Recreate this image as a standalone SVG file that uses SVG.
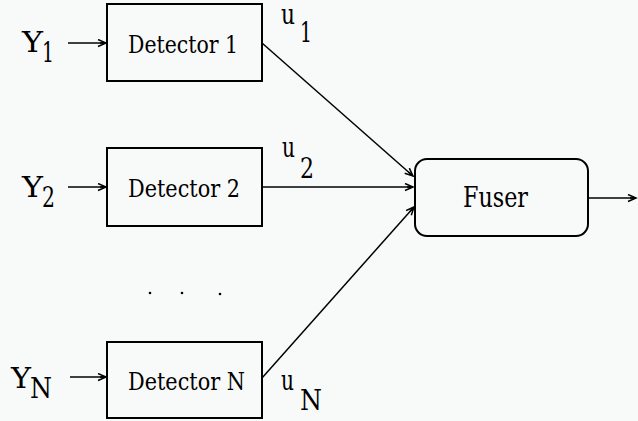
<svg xmlns="http://www.w3.org/2000/svg" width="638" height="421" viewBox="0 0 638 421">
<style>
.box{fill:none;stroke:#000;stroke-width:2}
.ln{fill:none;stroke:#000;stroke-width:1.5}
text{font-family:"DejaVu Serif","Liberation Serif",serif;fill:#000}
.lbl{font-size:25px}
.v{font-size:27px}
</style>
<defs>
<marker id="ah" markerUnits="userSpaceOnUse" markerWidth="12" markerHeight="10" refX="9" refY="4" orient="auto">
<path d="M1,0.5 L9,4 L1,7.5 M3,4 L9,4" fill="none" stroke="#000" stroke-width="1.5"/>
</marker>
</defs>
<rect width="638" height="421" fill="#f8f9f9"/>
<g id="det1">
<rect class="box" x="107" y="4" width="155" height="77"/>
<text class="lbl" x="128" y="53" textLength="110" lengthAdjust="spacingAndGlyphs">Detector 1</text>
</g>
<g id="det2">
<rect class="box" x="107" y="148" width="155" height="78"/>
<text class="lbl" x="128" y="197" textLength="112" lengthAdjust="spacingAndGlyphs">Detector 2</text>
</g>
<g id="detN">
<rect class="box" x="107" y="342" width="155" height="76"/>
<text class="lbl" x="128" y="390" textLength="117" lengthAdjust="spacingAndGlyphs">Detector N</text>
</g>
<g id="fuser">
<rect class="box" x="415" y="159" width="173" height="77" rx="12" ry="12"/>
<text x="463" y="207" font-size="28" textLength="65" lengthAdjust="spacingAndGlyphs">Fuser</text>
</g>
<g id="inputs">
<text class="v" x="22" y="52" textLength="21" lengthAdjust="spacingAndGlyphs">Y</text><text class="v" x="42" y="62" textLength="12" lengthAdjust="spacingAndGlyphs">1</text>
<text class="v" x="22" y="197" textLength="21" lengthAdjust="spacingAndGlyphs">Y</text><text class="v" x="42" y="207" textLength="13" lengthAdjust="spacingAndGlyphs">2</text>
<text class="v" x="11" y="388" textLength="20" lengthAdjust="spacingAndGlyphs">Y</text><text class="v" x="30" y="398" textLength="22" lengthAdjust="spacingAndGlyphs">N</text>
</g>
<g id="outputs">
<text class="v" x="281" y="24" textLength="14" lengthAdjust="spacingAndGlyphs">u</text><text class="v" x="300" y="42" textLength="12" lengthAdjust="spacingAndGlyphs">1</text>
<text class="v" x="282" y="157" textLength="13" lengthAdjust="spacingAndGlyphs">u</text><text class="v" x="300" y="178" textLength="14" lengthAdjust="spacingAndGlyphs">2</text>
<text class="v" x="281" y="390" textLength="13" lengthAdjust="spacingAndGlyphs">u</text><text class="v" x="300" y="410" textLength="22" lengthAdjust="spacingAndGlyphs">N</text>
</g>
<g id="dots" fill="#000">
<circle cx="150" cy="293" r="1.3"/>
<circle cx="182" cy="293" r="1.3"/>
<circle cx="220" cy="294" r="1.3"/>
</g>
<g id="connectors" class="ln">
<line class="ln" x1="68" y1="43" x2="106" y2="43" marker-end="url(#ah)"/>
<line class="ln" x1="68" y1="187" x2="106" y2="187" marker-end="url(#ah)"/>
<line class="ln" x1="70" y1="377" x2="106" y2="377" marker-end="url(#ah)"/>
<line class="ln" x1="262" y1="43" x2="413" y2="176" marker-end="url(#ah)"/>
<line class="ln" x1="262" y1="187" x2="413" y2="187" marker-end="url(#ah)"/>
<line class="ln" x1="262" y1="378" x2="414" y2="207" marker-end="url(#ah)"/>
<line class="ln" x1="588" y1="198" x2="636" y2="198" marker-end="url(#ah)"/>
</g>
</svg>
